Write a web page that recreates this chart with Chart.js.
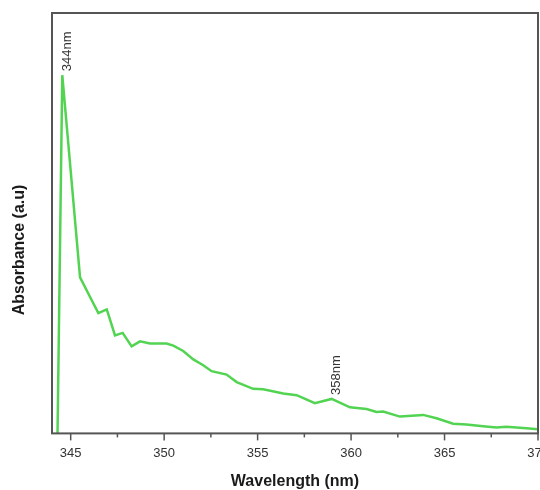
<!DOCTYPE html>
<html lang="en">
<head>
    <meta charset="UTF-8">
    <title>UV-Vis Absorbance Spectrum</title>
    <script src="https://cdn.jsdelivr.net/npm/chart.js"></script>
    <style>
        body {
            margin: 0;
            background: #fff;
            overflow: hidden;
        }
        .chart-wrap {
            width: 570px;
            height: 490px;
        }
    </style>
</head>
<body>
    <div class="chart-wrap">
        <canvas id="spectrum" width="570" height="490"></canvas>
    </div>

    <script>
        // Spectrum samples (wavelength in nm, absorbance in a.u.)
        const wavelengths = [344.29, 344.55, 345.5, 346.03, 346.48, 346.93, 347.37, 347.78, 348.26, 348.71,
            349.24, 350.13, 350.49, 351.02, 351.56, 352.09, 352.54, 353.34, 353.88, 354.76,
            355.30, 356.37, 357.09, 358.06, 358.96, 359.94, 360.83, 361.36, 361.72, 362.61,
            363.86, 364.57, 365.46, 366.18, 367.06, 367.78, 368.31, 369.38, 370.0];
        const absorbance = [-0.02, 0.852, 0.371, 0.325, 0.286, 0.295, 0.233, 0.239, 0.207, 0.219,
            0.214, 0.214, 0.209, 0.196, 0.176, 0.162, 0.148, 0.140, 0.122, 0.106,
            0.105, 0.095, 0.091, 0.072, 0.082, 0.062, 0.058, 0.051, 0.052, 0.040,
            0.044, 0.036, 0.023, 0.021, 0.017, 0.014, 0.016, 0.012, 0.010];

        // Peak annotations
        const peakIndex = [1, 24];
        const peakLabels = ['344nm', '358nm'];

        const xTitle = 'Wavelength (nm)';
        const yTitle = 'Absorbance (a.u)';

        const points = wavelengths.map((w, i) => ({ x: w, y: absorbance[i] }));

        // box around the plot, tick marks and axis titles
        const framePlugin = {
            id: 'frame',
            afterDraw(chart) {
                const { ctx, chartArea: a, scales } = chart;
                ctx.save();
                ctx.strokeStyle = '#555';
                ctx.lineWidth = 2;
                ctx.strokeRect(a.left, a.top, a.right - a.left, a.bottom - a.top);

                // major ticks every 5 nm, minor in between
                ctx.lineWidth = 1.5;
                scales.x.ticks.forEach(t => {
                    const px = scales.x.getPixelForValue(t.value);
                    const len = t.value % 5 === 0 ? 7 : 4;
                    ctx.beginPath();
                    ctx.moveTo(px, a.bottom);
                    ctx.lineTo(px, a.bottom + len);
                    ctx.stroke();
                });

                ctx.fillStyle = '#1a1a1a';
                ctx.font = 'bold 16px "Liberation Sans", Arial, sans-serif';
                ctx.textAlign = 'center';
                ctx.textBaseline = 'middle';
                ctx.fillText(xTitle, (a.left + a.right) / 2, 482);

                ctx.translate(20, 250);
                ctx.rotate(-Math.PI / 2);
                ctx.fillText(yTitle, 0, 0);
                ctx.restore();
            }
        };

        // vertical peak labels just above the marked points
        const peakPlugin = {
            id: 'peaks',
            afterDatasetsDraw(chart) {
                const { ctx } = chart;
                const meta = chart.getDatasetMeta(0);
                ctx.save();
                ctx.fillStyle = '#333';
                ctx.font = '13px "Liberation Sans", Arial, sans-serif';
                ctx.textAlign = 'left';
                ctx.textBaseline = 'middle';
                peakIndex.forEach((idx, k) => {
                    const el = meta.data[idx];
                    ctx.save();
                    ctx.translate(el.x + 5, el.y - 4);
                    ctx.rotate(-Math.PI / 2);
                    ctx.fillText(peakLabels[k], 0, 0);
                    ctx.restore();
                });
                ctx.restore();
            }
        };

        new Chart(document.getElementById('spectrum'), {
            type: 'line',
            data: {
                datasets: [{
                    data: points,
                    borderColor: '#52d452',
                    borderWidth: 2.5,
                    pointRadius: 0,
                    tension: 0,
                    fill: false
                }]
            },
            options: {
                responsive: false,
                animation: false,
                layout: {
                    padding: { left: 52, top: 13, right: 32, bottom: 17 }
                },
                plugins: {
                    legend: { display: false },
                    tooltip: { enabled: false }
                },
                scales: {
                    x: {
                        type: 'linear',
                        min: 344,
                        max: 370,
                        grid: { display: false, drawTicks: false },
                        border: { display: false },
                        ticks: {
                            stepSize: 2.5,
                            includeBounds: false,
                            autoSkip: false,
                            maxRotation: 0,
                            padding: 12,
                            color: '#333',
                            font: { family: '"Liberation Sans", Arial, sans-serif', size: 13 },
                            callback: v => (v % 5 === 0 ? String(v) : '')
                        }
                    },
                    y: {
                        display: false,
                        min: 0,
                        max: 1
                    }
                }
            },
            plugins: [framePlugin, peakPlugin]
        });
    </script>
</body>
</html>
